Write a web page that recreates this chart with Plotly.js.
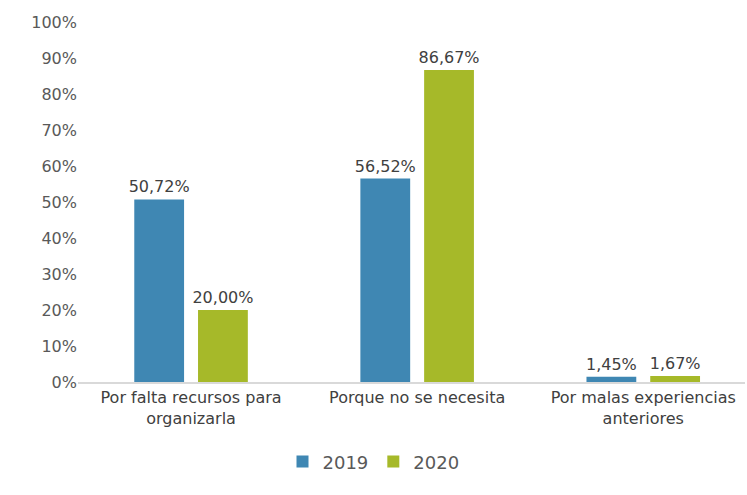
<!DOCTYPE html>
<html>
<head>
<meta charset="utf-8">
<script src="https://cdn.plot.ly/plotly-3.0.1.min.js"></script>
<style>html,body{margin:0;padding:0;background:#fff;}#chart{width:747px;height:495px;}</style>
</head>
<body>
<div id="chart"></div>
<script>
const categories = ["Por falta recursos para<br>organizarla", "Porque no se necesita", "Por malas experiencias<br>anteriores"];
const seriesNames = ["2019", "2020"];
const values2019 = [50.72, 56.52, 1.45];
const values2020 = [20.00, 86.67, 1.67];
const yTicks = [0, 10, 20, 30, 40, 50, 60, 70, 80, 90, 100];
const yTickText = yTicks.map(v => v + '%');

const fontFam = "'DejaVu Sans', sans-serif";
const mk = (name, vals, color) => ({
  type: 'bar', name: name, x: categories, y: vals,
  marker: {color: color},
  texttemplate: '%{y:.2f}%', textposition: 'outside', constraintext: 'none',
  textfont: {size: 16, color: '#404040', family: fontFam},
  cliponaxis: false, hoverinfo: 'none'
});
const data = [mk(seriesNames[0], values2019, '#3F87B3'), mk(seriesNames[1], values2020, '#A6B929')];
const layout = {
  width: 747, height: 495,
  margin: {l: 78, r: 2, t: 22, b: 113},
  separators: ',.',
  barmode: 'group', bargap: 0.436, bargroupgap: 0.219,
  paper_bgcolor: '#fff', plot_bgcolor: '#fff',
  font: {family: fontFam, color: '#595959', size: 16},
  xaxis: {range: [-0.5, 2.45], showline: true, linecolor: '#D9D9D9', linewidth: 1.5, ticks: '', tickfont: {size: 16, color: '#404040'}},
  yaxis: {range: [0, 100], tickvals: yTicks, ticktext: yTickText, showgrid: false, zeroline: false, showline: false, ticks: '', tickfont: {size: 16, color: '#595959'}},
  legend: {orientation: 'h', x: 0.5, xanchor: 'center', xref: 'container', yref: 'container', y: 0.067, yanchor: 'middle', font: {size: 18, color: '#595959'}, itemwidth: 30},
  showlegend: true
};
Plotly.newPlot('chart', data, layout, {displayModeBar: false, staticPlot: true});
</script>
</body>
</html>
